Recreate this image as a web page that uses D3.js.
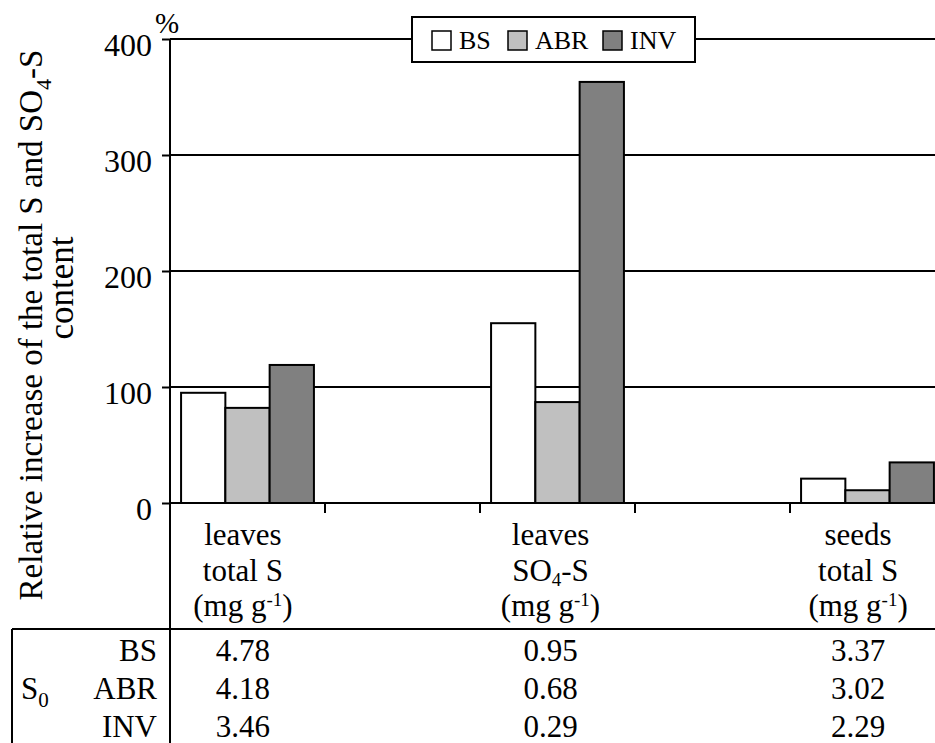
<!DOCTYPE html>
<html>
<head>
<meta charset="utf-8">
<script src="https://cdn.jsdelivr.net/npm/d3@7"></script>
<style>
	body { margin: 0; background: #fff; }
	text { font-family: "Liberation Serif", "Times New Roman", serif; fill: #000; }
</style>
</head>
<body>
<div id="chart"></div>
<script>

// slots on the x axis: the two gaps are empty bands
var slots = ['leaves total S', 'gap1', 'leaves SO4-S', 'gap2', 'seeds total S'];
var categories = ['leaves total S', 'leaves SO4-S', 'seeds total S'];
var series = ['BS', 'ABR', 'INV'];

var bsValues = [95, 155, 21];
var abrValues = [82, 87, 11];
var invValues = [119, 363, 35];

var yTicks = [0, 100, 200, 300, 400];

// S0 table rows
var s0BS = ['4.78', '0.95', '3.37'];
var s0ABR = ['4.18', '0.68', '3.02'];
var s0INV = ['3.46', '0.29', '2.29'];

var svgWidth = 935;
var svgHeight = 743;
var left = 170;
var top0 = 39;
var bottom0 = 503;

var color = d3.scaleOrdinal().domain(series).range(['#ffffff', '#c0c0c0', '#808080']);

var x = d3.scaleBand().domain(slots).range([left, 945]);
var xLab = d3.scaleBand().domain(slots).range([left - 4, 935]);
var xs = d3.scaleBand().domain(series).range([0, x.bandwidth()]).paddingOuter(0.25);
var y = d3.scaleLinear().domain([0, 400]).range([bottom0, top0]);

var svg = d3.select('#chart').append('svg')
	.attr('width', svgWidth)
	.attr('height', svgHeight);

// gridlines
svg.selectAll('.grid').data(yTicks.slice(1)).enter().append('line')
	.attr('x1', left).attr('x2', svgWidth)
	.attr('y1', function(d) { return y(d); })
	.attr('y2', function(d) { return y(d); })
	.attr('stroke', '#000').attr('stroke-width', 2);

// y axis
var yAxis = d3.axisLeft(y).tickValues(yTicks).tickSize(8).tickPadding(10);
var gy = svg.append('g').attr('transform', 'translate(' + left + ',0)').call(yAxis);
gy.attr('font-family', null);
gy.select('.domain').remove();
gy.selectAll('.tick line').attr('stroke', '#000').attr('stroke-width', 2);
gy.selectAll('.tick text')
	.style('font-family', '"Liberation Serif", serif')
	.style('font-size', '32px')
	.attr('dy', '0.5em');

svg.append('text').attr('x', 155).attr('y', 33).style('font-size', '29px').text('%');

// bars
var data = categories.map(function(c, i) {
	return { cat: c, values: [bsValues[i], abrValues[i], invValues[i]] };
});

var grp = svg.selectAll('.grp').data(data).enter().append('g')
	.attr('transform', function(d) { return 'translate(' + x(d.cat) + ',0)'; });

grp.selectAll('rect').data(function(d) {
	return d.values.map(function(v, i) { return { s: series[i], v: v }; });
}).enter().append('rect')
	.attr('x', function(d) { return xs(d.s); })
	.attr('width', xs.bandwidth())
	.attr('y', function(d) { return y(d.v); })
	.attr('height', function(d) { return y(0) - y(d.v); })
	.style('fill', function(d) { return color(d.s); })
	.style('stroke', '#000')
	.style('stroke-width', 2);

// x axis line + ticks between bands
svg.append('line').attr('x1', left).attr('x2', svgWidth)
	.attr('y1', bottom0).attr('y2', bottom0)
	.attr('stroke', '#000').attr('stroke-width', 2);
svg.selectAll('.xtick').data(slots.slice(1)).enter().append('line')
	.attr('x1', function(d) { return x(d); })
	.attr('x2', function(d) { return x(d); })
	.attr('y1', bottom0).attr('y2', bottom0 + 10)
	.attr('stroke', '#000').attr('stroke-width', 2);

// left vertical line (axis + table divider)
svg.append('line').attr('x1', left).attr('x2', left)
	.attr('y1', top0).attr('y2', svgHeight)
	.attr('stroke', '#000').attr('stroke-width', 2);

// legend
var lg = svg.append('g');
lg.append('rect').attr('x', 412).attr('y', 17).attr('width', 283).attr('height', 45)
	.style('fill', '#fff').style('stroke', '#000').style('stroke-width', 2);
var legX = [432, 508, 603];
series.forEach(function(s, i) {
	lg.append('rect').attr('x', legX[i]).attr('y', 31).attr('width', 19).attr('height', 19)
		.style('fill', color(s)).style('stroke', '#000').style('stroke-width', 1.5);
	lg.append('text').attr('x', legX[i] + 27).attr('y', 49).style('font-size', '26px').text(s);
});

// y title
var yt = svg.append('text').attr('transform', 'translate(42,325) rotate(-90)')
	.attr('text-anchor', 'middle').style('font-size', '33px');
yt.append('tspan').text('Relative increase of the total S and SO');
yt.append('tspan').attr('dy', 9).style('font-size', '22px').text('4');
yt.append('tspan').attr('dy', -9).text('-S');
svg.append('text').attr('transform', 'translate(73,288) rotate(-90)')
	.attr('text-anchor', 'middle').style('font-size', '35px').text('content');

// category labels
var line1 = ['leaves', 'leaves', 'seeds'];
var line2 = [['total S', ''], ['SO', '4', '-S'], ['total S', '']];
categories.forEach(function(c, i) {
	var cx = xLab(c) + xLab.bandwidth() / 2;
	svg.append('text').attr('x', cx).attr('y', 545).attr('text-anchor', 'middle')
		.style('font-size', '31px').text(line1[i]);
	var t2 = svg.append('text').attr('x', cx).attr('y', 581).attr('text-anchor', 'middle')
		.style('font-size', '31px');
	t2.append('tspan').text(line2[i][0]);
	if (line2[i][1]) {
		t2.append('tspan').attr('dy', 5).style('font-size', '19px').text(line2[i][1]);
		t2.append('tspan').attr('dy', -5).text(line2[i][2]);
	}
	var t3 = svg.append('text').attr('x', cx).attr('y', 616).attr('text-anchor', 'middle')
		.style('font-size', '31px');
	t3.append('tspan').text('(mg g');
	t3.append('tspan').attr('dy', -10).style('font-size', '19px').text('-1');
	t3.append('tspan').attr('dy', 10).text(')');
});

// table
svg.append('line').attr('x1', 12).attr('x2', svgWidth).attr('y1', 629).attr('y2', 629)
	.attr('stroke', '#000').attr('stroke-width', 2);
svg.append('line').attr('x1', 12).attr('x2', 12).attr('y1', 629).attr('y2', svgHeight)
	.attr('stroke', '#000').attr('stroke-width', 2);

var rows = [s0BS, s0ABR, s0INV];
var rowY = [661, 699, 737];
rows.forEach(function(r, j) {
	svg.append('text').attr('x', 157).attr('y', rowY[j]).attr('text-anchor', 'end')
		.style('font-size', '31px').text(series[j]);
	r.forEach(function(v, i) {
		svg.append('text').attr('x', xLab(categories[i]) + xLab.bandwidth() / 2).attr('y', rowY[j])
			.attr('text-anchor', 'middle').style('font-size', '31px').text(v);
	});
});
var s0 = svg.append('text').attr('x', 21).attr('y', 699).style('font-size', '31px');
s0.append('tspan').text('S');
s0.append('tspan').attr('dy', 8).style('font-size', '21px').text('0');

</script>
</body>
</html>
